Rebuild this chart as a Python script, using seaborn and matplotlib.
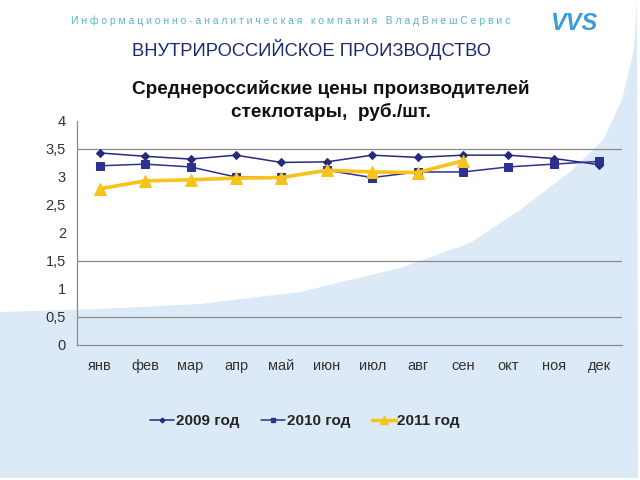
import numpy as np
import pandas as pd
import matplotlib
matplotlib.use("Agg")
import matplotlib.pyplot as plt
from matplotlib.patches import Polygon
from matplotlib.lines import Line2D
import seaborn as sns

months = ["янв", "фев", "мар", "апр", "май", "июн", "июл", "авг", "сен", "окт", "ноя", "дек"]
y2009 = [3.43, 3.37, 3.32, 3.39, 3.26, 3.27, 3.39, 3.35, 3.39, 3.39, 3.33, 3.22]
y2010 = [3.20, 3.23, 3.18, 3.00, 3.00, 3.12, 2.99, 3.09, 3.09, 3.18, 3.23, 3.28]
y2011 = [2.79, 2.93, 2.95, 2.98, 2.99, 3.12, 3.09, 3.08, 3.29]
series_names = ["2009 год", "2010 год", "2011 год"]
y_ticks = [0, 0.5, 1, 1.5, 2, 2.5, 3, 3.5, 4]
y_labels = ["0", "0,5", "1", "1,5", "2", "2,5", "3", "3,5", "4"]
grid_values = [0.5, 1.5, 3.5]

rows = []
for name, vals in zip(series_names, [y2009, y2010, y2011]):
    for i, v in enumerate(vals):
        rows.append({"idx": i, "month": months[i], "value": v, "series": name})
df = pd.DataFrame(rows)

sns.set_theme(style="white")
plt.rcParams["font.family"] = ["Liberation Sans", "DejaVu Sans"]

fig = plt.figure(figsize=(6.4, 4.8), dpi=100)
fig.patch.set_facecolor("white")

# background decoration (light blue curved area)
W, H = 640, 480
pts_px = [(0, 312), (100, 309), (200, 304), (300, 292), (400, 268), (470, 243),
          (520, 210), (570, 172), (603, 140), (622, 100), (634, 50), (637, 0),
          (638, 478), (0, 478)]
pts = [(x / W, 1 - y / H) for x, y in pts_px]
bg = Polygon(pts, closed=True, transform=fig.transFigure,
             facecolor="#dce9f6", edgecolor="none", zorder=-5)
fig.patches.append(bg)

ax = fig.add_axes([77 / W, 1 - 345 / H, (622 - 77) / W, (345 - 121) / H])
ax.set_facecolor("none")
ax.set_zorder(2)

styles = {
    "2009 год": dict(color="#262a78", marker="D", ms=4.0, lw=1.1),
    "2010 год": dict(color="#2e3192", marker="s", ms=6.0, lw=1.1),
    "2011 год": dict(color="#f7c21a", marker="^", ms=8.5, lw=2.6),
}
for name in series_names:
    st = styles[name]
    sub = df[df["series"] == name]
    sns.lineplot(data=sub, x="idx", y="value", ax=ax, color=st["color"],
                 marker=st["marker"], markersize=st["ms"], linewidth=st["lw"],
                 markeredgecolor=st["color"], sort=False, legend=False, zorder=3)

ax.set_xlim(-0.5, 11.5)
ax.set_ylim(0, 4)
ax.set_xticks(range(12))
ax.set_xticklabels(months, fontsize=10.5, color="#333333")
ax.set_xticks(np.arange(-0.5, 12, 1), minor=True)
ax.tick_params(axis="x", which="major", length=0, pad=10)
ax.tick_params(axis="x", which="minor", length=4, color="#888888", direction="out")
ax.set_yticks(y_ticks)
ax.set_yticklabels(y_labels, fontsize=10.5, color="#333333")
ax.tick_params(axis="y", which="major", length=4, color="#888888", pad=4)
ax.grid(axis="y", which="major", color="#8a8a8a", linewidth=0.9)
ax.grid(axis="x", visible=False)
ax.set_axisbelow(True)
for tv, tk in zip(y_ticks, ax.yaxis.get_major_ticks()):
    tk.gridline.set_visible(tv in grid_values)
for s in ["top", "right"]:
    ax.spines[s].set_visible(False)
for s in ["left", "bottom"]:
    ax.spines[s].set_color("#8a8a8a")
    ax.spines[s].set_linewidth(0.9)
ax.set_xlabel("")
ax.set_ylabel("")

# legend
handles = [Line2D([0], [0], color=styles[n]["color"], marker=styles[n]["marker"],
                  markersize=styles[n]["ms"] * 0.6,
                  linewidth=2.5 if n == "2011 год" else 1.1)
           for n in series_names]
leg = fig.legend(handles, series_names, loc="center", bbox_to_anchor=(305 / W, 1 - 421 / H),
                 ncol=3, frameon=False, handlelength=1.6, handletextpad=0.1,
                 columnspacing=1.4, prop={"size": 11, "weight": "bold"})

# titles and header
fig.text(331 / W, 1 - 89 / H, "Среднероссийские цены производителей",
         ha="center", va="center", fontsize=13.7, fontweight="bold", color="#111111")
fig.text(331 / W, 1 - 112 / H, "стеклотары,  руб./шт.",
         ha="center", va="center", fontsize=13.7, fontweight="bold", color="#111111")
fig.text(312 / W, 1 - 49 / H, "ВНУТРИРОССИЙСКОЕ ПРОИЗВОДСТВО",
         ha="center", va="center", fontsize=13.2, color="#1f2a6e")
header = "Информационно-аналитическая компания ВладВнешСервис"
spaced = " ".join(list(header))
fig.text(291 / W, 1 - 21 / H, spaced, ha="center", va="center", fontsize=7.5,
         color="#5cb3cc")
fig.text(574 / W, 1 - 24 / H, "VVS", ha="center", va="center", fontsize=17,
         fontweight="bold", fontstyle="italic", color="#3a9bd8")

fig.savefig("out.png", dpi=100)
